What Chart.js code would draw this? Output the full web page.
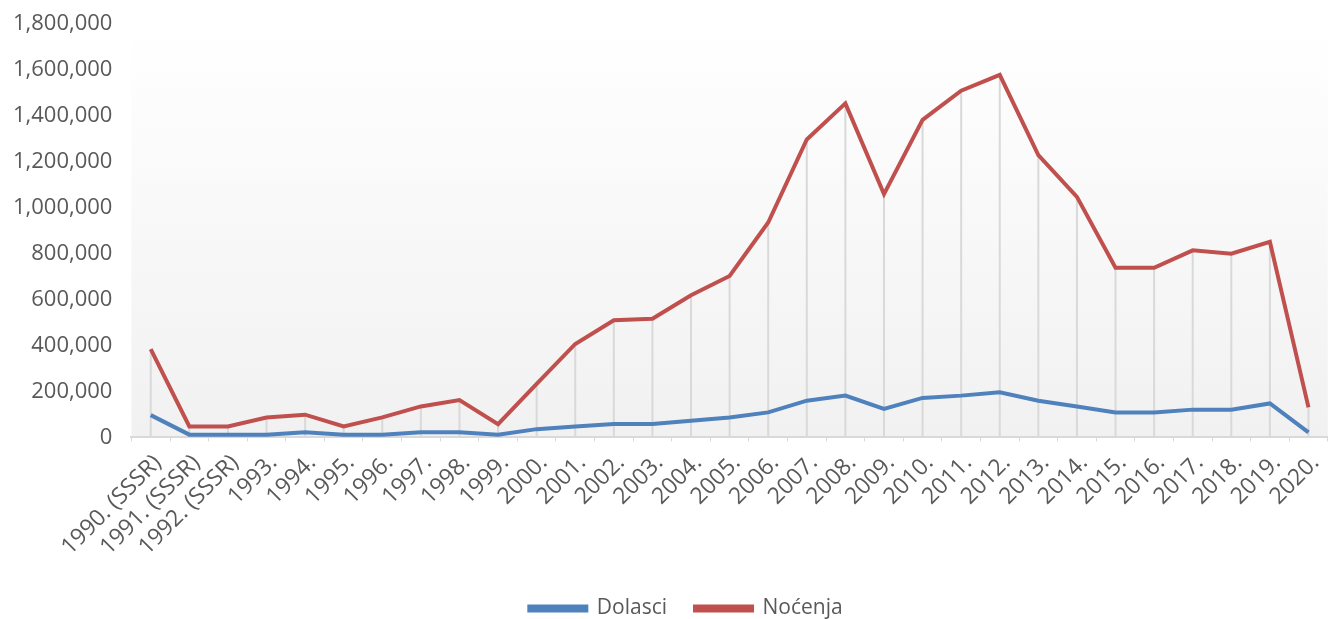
<!DOCTYPE html>
<html>
<head>
<meta charset="utf-8">
<script src="https://cdn.jsdelivr.net/npm/chart.js@4.4.0/dist/chart.umd.min.js"></script>
<style>
    html, body { margin: 0; padding: 0; background: #fff; overflow: hidden; }
    #wrap { width: 1336px; height: 619px; }
</style>
</head>
<body>
<div id="wrap"><canvas id="canvasTourism"></canvas></div>
<script>
"use strict";

var years = [
    '1990. (SSSR)', '1991. (SSSR)', '1992. (SSSR)', '1993.', '1994.', '1995.', '1996.', '1997.',
    '1998.', '1999.', '2000.', '2001.', '2002.', '2003.', '2004.', '2005.', '2006.', '2007.',
    '2008.', '2009.', '2010.', '2011.', '2012.', '2013.', '2014.', '2015.', '2016.', '2017.',
    '2018.', '2019.', '2020.'
];
var dolasci = [
    97000, 12000, 12000, 12000, 22000, 12000, 12000, 22000,
    22000, 12000, 36000, 48000, 58000, 58000, 73000, 87000, 109000, 160000,
    182000, 124000, 172000, 182000, 197000, 160000, 135000, 109000, 109000, 121000,
    121000, 148000, 22000
];
var nocenja = [
    385000, 48000, 48000, 87000, 99000, 48000, 87000, 135000,
    163000, 58000, 233000, 407000, 510000, 517000, 619000, 703000, 936000, 1298000,
    1455000, 1060000, 1383000, 1510000, 1579000, 1230000, 1048000, 739000, 739000, 815000,
    800000, 852000, 131000
];
var yTicks = [0, 200000, 400000, 600000, 800000, 1000000, 1200000, 1400000, 1600000, 1800000];

var textColor = '#595959';
var fontFamily = "'Open Sans', sans-serif";

// gradient fill behind the plot area
var plotBackground = {
    id: 'plotBackground',
    beforeDraw: function (chart) {
        var ctx = chart.ctx, area = chart.chartArea;
        var grad = ctx.createLinearGradient(0, area.top, 0, area.bottom);
        grad.addColorStop(0, '#ffffff');
        grad.addColorStop(1, '#f1f1f1');
        ctx.save();
        ctx.fillStyle = grad;
        ctx.fillRect(area.left, area.top, area.right - area.left, area.bottom - area.top);
        ctx.restore();
    }
};

// vertical drop lines from the highest point down to the axis
var dropLines = {
    id: 'dropLines',
    beforeDatasetsDraw: function (chart) {
        var ctx = chart.ctx, area = chart.chartArea;
        var metaA = chart.getDatasetMeta(0), metaB = chart.getDatasetMeta(1);
        ctx.save();
        ctx.strokeStyle = '#d9d9d9';
        ctx.lineWidth = 2;
        for (var i = 0; i < years.length; i++) {
            var pA = metaA.data[i], pB = metaB.data[i];
            var top = Math.min(pA.y, pB.y);
            ctx.beginPath();
            ctx.moveTo(pA.x, top);
            ctx.lineTo(pA.x, area.bottom);
            ctx.stroke();
        }
        ctx.restore();
    }
};

// legend sits a bit right of centre in the original
var legendShift = {
    id: 'legendShift',
    afterLayout: function (chart) {
        chart.legend.left += 17;
        chart.legend.right += 17;
    }
};

const context = document.getElementById('canvasTourism');
const myChart = new Chart(context, {
    type: 'line',
    data: {
        labels: years,
        datasets: [{
            label: 'Dolasci',
            data: dolasci,
            borderColor: '#4f81bd',
            backgroundColor: '#4f81bd',
            borderWidth: 4,
            pointRadius: 0,
            tension: 0
        }, {
            label: 'Noćenja',
            data: nocenja,
            borderColor: '#c0504d',
            backgroundColor: '#c0504d',
            borderWidth: 4,
            pointRadius: 0,
            tension: 0
        }]
    },
    options: {
        responsive: true,
        maintainAspectRatio: false,
        animation: false,
        layout: { padding: { top: 11, left: 2, right: 0, bottom: -10 } },
        plugins: {
            tooltip: { enabled: false },
            legend: {
                position: 'bottom',
                labels: {
                    color: textColor,
                    font: { family: fontFamily, size: 21 },
                    boxWidth: 57,
                    boxHeight: 4,
                    padding: 28
                }
            }
        },
        scales: {
            x: {
                offset: true,
                afterFit: function (scale) { scale.height += 1; },
                grid: {
                    display: true,
                    drawOnChartArea: false,
                    offset: true,
                    color: '#d9d9d9',
                    tickLength: 4
                },
                border: { display: true, color: '#d9d9d9', width: 2 },
                ticks: {
                    color: textColor,
                    font: { family: fontFamily, size: 23 },
                    minRotation: 45,
                    maxRotation: 45,
                    autoSkip: false,
                    padding: 8,
                    labelOffset: 7
                }
            },
            y: {
                min: 0,
                max: yTicks[yTicks.length - 1],
                afterBuildTicks: function (axis) {
                    axis.ticks = yTicks.map(function (v) { return { value: v }; });
                },
                grid: { display: false },
                border: { display: false },
                ticks: {
                    color: textColor,
                    font: { family: fontFamily, size: 22 },
                    padding: 11,
                    callback: function (v) { return v.toLocaleString('en-US'); }
                }
            }
        }
    },
    plugins: [plotBackground, dropLines, legendShift]
});
</script>
</body>
</html>
